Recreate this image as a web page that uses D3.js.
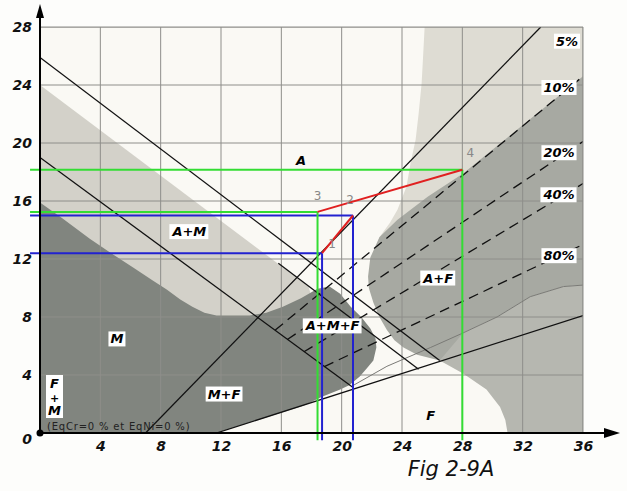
<!DOCTYPE html>
<html><head><meta charset="utf-8">
<script src="https://cdn.jsdelivr.net/npm/d3@7"></script>
<style>body{margin:0;background:#fdfdfb;} svg{display:block}</style>
</head><body><svg id="c" width="627" height="491"></svg>
<script>
// ---- data (Cr equivalent on x, Ni equivalent on y) ----
const xTicks = [4, 8, 12, 16, 20, 24, 28, 32, 36];
const yTicks = [0, 4, 8, 12, 16, 20, 24, 28];
const gridX = [4, 8, 12, 16, 20, 24, 28, 32, 36];
const gridY = [4, 8, 12, 16, 20, 24, 28];

const regionLightBand = [[0,24],[17.8,10.1],[19.5,4],[0,0]];
const regionLightUpper = [[25.5,28],[36,28],[36,20],[22.2,12.5],[22.5,13.5],[23.2,14.5],[23.7,15.4],[24.3,17],[24.6,18.8],[24.9,20.2],[25.1,22],[25.3,24.1],[25.4,26]];
const regionMedium = [[36,24.6],[36,10.2],[34.7,10.1],[32.5,9.4],[30.3,8.0],[28.05,6.9],[26.5,5.0],[25,5.4],[24.1,5.9],[23.5,6.4],[23,7.1],[22.5,8.0],[22.1,9.0],[21.8,10.0],[21.75,10.8],[21.9,12.1],[22.5,13.5],[23.7,14.7],[25.7,16.3],[28.05,17.9]];
const regionLowerRight = [[25.9,5.9],[28.05,6.9],[30.3,8.0],[32.5,9.4],[34.7,10.1],[36,10.2],[36,0],[31,0],[30.85,0.9],[30.5,1.8],[29.6,3.0],[28.05,4.1],[26.5,5.0]];
const regionDark = [[0,0],[0,15.9],[1.5,14.8],[3.3,13.4],[5,12.2],[6.2,11.4],[7.5,10.5],[8.4,9.9],[9.3,9.2],[10.1,8.7],[10.9,8.3],[11.7,8.1],[13.9,8.1],[15,8.3],[16.1,8.7],[17.3,9.3],[18.4,9.95],[19.2,10.1],[19.9,9.6],[20.6,8.7],[21.3,8.0],[21.9,7.2],[22.25,6.5],[22.3,5.9],[22.1,5.0],[21.7,4.5],[21.2,3.9],[20.5,3.3],[19.9,3.0],[18.7,2.5],[17.5,1.9],[11.7,0]];

const solidLines = [
  [[0,25.9],[26.5,5.0]],
  [[0,19.0],[20.8,3.1]],
  [[7.0,0],[33.2,28]],
  [[11.7,0],[36,8.1]],
  [[15.8,11.7],[25.1,4.4]]
];
const grayCurve = [[20.8,3.3],[23,4.6],[25.9,5.9],[28.05,6.9],[30.3,8.0],[32.5,9.4],[34.7,10.1],[36,10.2]];

const ferriteLabels = ["10%", "20%", "40%", "80%"];
const ferriteStart = [[15.6,7.1],[16.4,6.45],[17.5,5.6],[18.85,4.58]];
const ferriteEnd = [[36,24.6],[36,20.1],[36,17.2],[36,13.0]];

const pointIds = ["1", "2", "3", "4"];
const pointCr = [18.7, 20.75, 18.4, 28.0];
const pointNi = [12.4, 15.0, 15.25, 18.15];

const phaseLabels = ["A", "A+M", "M", "M+F", "A+M+F", "A+F", "F"];
const phaseCr = [17.3, 9.9, 5.1, 12.2, 19.4, 26.4, 25.9];
const phaseNi = [18.8, 13.9, 6.5, 2.7, 7.4, 10.7, 1.2];

// ---- drawing ----
const svg = d3.select("#c");
const x = d3.scaleLinear().domain([0, 36]).range([40, 583]);
const y = d3.scaleLinear().domain([0, 28]).range([433, 27]);
const poly = d3.line().x(d => x(d[0])).y(d => y(d[1])).curve(d3.curveLinearClosed);
const open = d3.line().x(d => x(d[0])).y(d => y(d[1]));

svg.append("defs").append("clipPath").attr("id","clip")
  .append("rect").attr("x", x(0)).attr("y", y(28)).attr("width", x(36)-x(0)).attr("height", y(0)-y(28));

const plot = svg.append("g").attr("clip-path","url(#clip)");
plot.append("rect").attr("x", x(0)).attr("y", y(28)).attr("width", x(36)-x(0)).attr("height", y(0)-y(28)).attr("fill","#faf9f4");
plot.append("path").attr("d", poly(regionLightBand)).attr("fill","#d3d1c9");
plot.append("path").attr("d", poly(regionLightUpper)).attr("fill","#dedcd3");
plot.append("path").attr("d", poly(regionLowerRight)).attr("fill","#b6b7b0");
plot.append("path").attr("d", poly(regionMedium)).attr("fill","#a7a9a2");
plot.append("path").attr("d", poly(regionDark)).attr("fill","#81857f");

// grid
plot.selectAll(".gx").data(gridX).join("line")
  .attr("x1", d => x(d)).attr("x2", d => x(d)).attr("y1", y(0)).attr("y2", y(28))
  .attr("stroke","#8e8e8a").attr("stroke-width",1);
plot.selectAll(".gy").data(gridY).join("line")
  .attr("y1", d => y(d)).attr("y2", d => y(d)).attr("x1", x(0)).attr("x2", x(36))
  .attr("stroke","#8e8e8a").attr("stroke-width",1);
svg.append("line").attr("x1",x(36)).attr("x2",x(36)).attr("y1",y(0)).attr("y2",y(28)).attr("stroke","#8e8e8a");
svg.append("line").attr("x1",x(0)).attr("x2",x(36)).attr("y1",y(28)).attr("y2",y(28)).attr("stroke","#8e8e8a");

// curves and lines
plot.append("path").attr("d", open(grayCurve)).attr("fill","none").attr("stroke","#7a7a76").attr("stroke-width",1);
plot.selectAll(".sl").data(solidLines).join("path")
  .attr("d", d => open(d)).attr("fill","none").attr("stroke","#111").attr("stroke-width",1.3);
plot.selectAll(".fl").data(ferriteStart).join("path")
  .attr("d", (d,i) => open([d, ferriteEnd[i]])).attr("fill","none")
  .attr("stroke","#111").attr("stroke-width",1.3).attr("stroke-dasharray","10,6");

// guide overlays
const guideColor = ["#2222d0", "#2222d0", "#33dd33", "#33dd33"];
pointIds.forEach((id, i) => {
  const c = guideColor[i];
  svg.append("line").attr("x1", x(-0.66)).attr("x2", x(pointCr[i])).attr("y1", y(pointNi[i])).attr("y2", y(pointNi[i]))
    .attr("stroke", c).attr("stroke-width", 2);
  svg.append("line").attr("x1", x(pointCr[i])).attr("x2", x(pointCr[i])).attr("y1", y(pointNi[i])).attr("y2", y(-0.5))
    .attr("stroke", c).attr("stroke-width", 2);
});
svg.append("path").attr("d", open([[pointCr[0],pointNi[0]],[pointCr[1],pointNi[1]]])).attr("stroke","#e02020").attr("stroke-width",2).attr("fill","none");
svg.append("path").attr("d", open([[pointCr[2],pointNi[2]],[pointCr[3],pointNi[3]]])).attr("stroke","#e02020").attr("stroke-width",2).attr("fill","none");
const ptOff = [[10,-5],[-3,-12],[0,-12],[8,-13]];
pointIds.forEach((id,i) => {
  svg.append("text").attr("x", x(pointCr[i]) + ptOff[i][0]).attr("y", y(pointNi[i]) + ptOff[i][1])
    .attr("text-anchor","middle").attr("font-family","DejaVu Sans").attr("font-size",12)
    .attr("fill","#888").text(id);
});

// axes
const axisG = svg.append("g");
axisG.append("line").attr("x1", x(0)).attr("x2", 606).attr("y1", y(0)).attr("y2", y(0)).attr("stroke","#000").attr("stroke-width",2);
axisG.append("path").attr("d", `M604,${y(0)-5}L620,${y(0)}L604,${y(0)+5}Z`).attr("fill","#000");
axisG.append("line").attr("x1", x(0)).attr("x2", x(0)).attr("y1", y(0)).attr("y2", 16).attr("stroke","#000").attr("stroke-width",2);
axisG.append("path").attr("d", `M${x(0)-4},18L${x(0)},4L${x(0)+4},18Z`).attr("fill","#000");
axisG.append("circle").attr("cx", x(0)).attr("cy", y(0)).attr("r", 3.5).attr("fill","#000");

const xAxis = d3.axisBottom(x).tickValues(xTicks).tickSize(0).tickPadding(7).tickFormat(d3.format("d"));
const gx = svg.append("g").attr("transform", `translate(0,${y(0)})`).call(xAxis);
gx.select(".domain").remove();
gx.selectAll("text").attr("font-family","DejaVu Sans").attr("font-weight","bold").attr("font-style","italic")
  .attr("font-size",14).attr("fill","#111").attr("dy","0.75em");
const yAxis = d3.axisLeft(y).tickValues(yTicks).tickSize(0).tickPadding(8).tickFormat(d3.format("d"));
const gy = svg.append("g").attr("transform", `translate(${x(0)},0)`).call(yAxis);
gy.select(".domain").remove();
gy.selectAll("text").attr("font-family","DejaVu Sans").attr("font-weight","bold").attr("font-style","italic")
  .attr("font-size",14).attr("fill","#111").attr("dy", d => d === 0 ? "0.75em" : "0.35em");

// labels
function boxLabel(txt, cx, cy, fs, box) {
  const g = svg.append("g");
  const t = g.append("text").attr("x", cx).attr("y", cy).attr("text-anchor","middle").attr("dy","0.36em")
    .attr("font-family","DejaVu Sans").attr("font-weight","bold").attr("font-style","italic")
    .attr("font-size", fs).attr("fill","#000").text(txt);
  if (box) {
    const b = t.node().getBBox();
    g.insert("rect","text").attr("x", b.x - 2).attr("y", b.y).attr("width", b.width + 4).attr("height", b.height).attr("fill","#fff");
  }
}
phaseLabels.forEach((l,i) => boxLabel(l, x(phaseCr[i]), y(phaseNi[i]), 13, !(l === "A" || l === "F")));

// F+M stacked
const fm = svg.append("g");
fm.append("rect").attr("x", 46).attr("y", 375).attr("width", 17).attr("height", 43).attr("fill","#fff");
["F","+","M"].forEach((s,i) => fm.append("text").attr("x", 54.5).attr("y", 388 + i*13.5)
  .attr("text-anchor","middle").attr("font-family","DejaVu Sans").attr("font-weight","bold").attr("font-style","italic")
  .attr("font-size", i===1 ? 11 : 13).text(s));

svg.append("text").attr("x", 47).attr("y", 430).attr("font-family","DejaVu Sans").attr("font-size",10)
  .attr("letter-spacing", 0.8).attr("fill","#222").text("(EqCr=0 % et EqNi=0 %)");

// ferrite % labels
ferriteLabels.forEach((l,i) => boxLabel(l, 559, y(ferriteEnd[i][1]) + 11, 13, true));
boxLabel("5%", 567, 41, 13, true);

svg.append("text").attr("x", 451).attr("y", 476).attr("text-anchor","middle")
  .attr("font-family","DejaVu Sans").attr("font-style","italic").attr("font-size",21).attr("fill","#111").text("Fig 2-9A");
</script></body></html>
